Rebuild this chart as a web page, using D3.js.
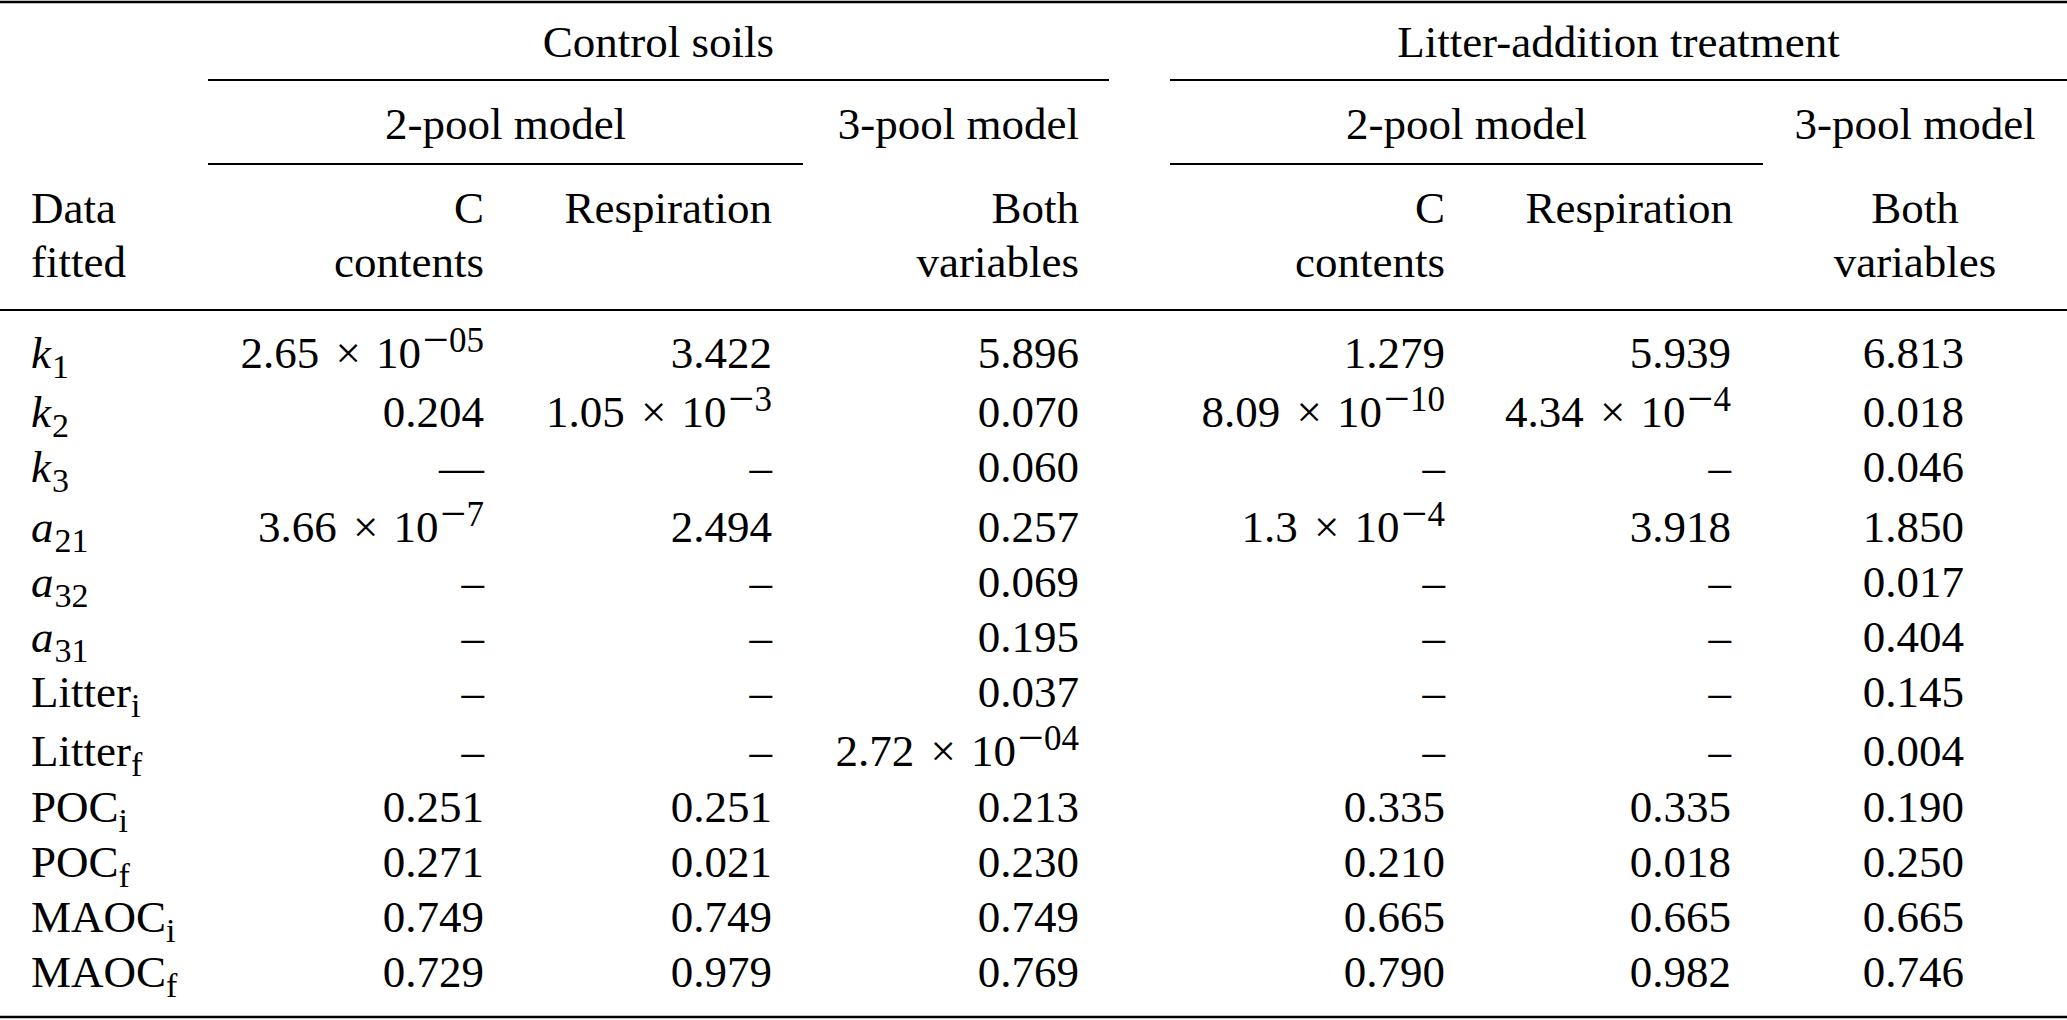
<!DOCTYPE html>
<html>
<head>
<meta charset="utf-8">
<script src="https://cdn.jsdelivr.net/npm/d3@7/dist/d3.min.js"></script>
<style>
  html, body { margin: 0; padding: 0; background: #ffffff; }
  svg { display: block; }
  text { font-family: "Liberation Serif", "Times New Roman", Times, serif; fill: #000; }
</style>
</head>
<body>
<div id="chart"></div>
<script>
// ---------------- data ----------------
const spanners = ["Control soils", "Litter-addition treatment"];
const models = ["2-pool model", "3-pool model"];
const colHeads = [["C", "contents"], ["Respiration"], ["Both", "variables"]];
const rowHeader = ["Data", "fitted"];

const rowSymbols = ["k", "k", "k", "a", "a", "a", "Litter", "Litter", "POC", "POC", "MAOC", "MAOC"];
const rowSubs    = ["1", "2", "3", "21", "32", "31", "i", "f", "i", "f", "i", "f"];
const rowItalic  = [true, true, true, true, true, true, false, false, false, false, false, false];

const controlC    = ["2.65 × 10^−05", "0.204", "—", "3.66 × 10^−7", "–", "–", "–", "–", "0.251", "0.271", "0.749", "0.729"];
const controlResp = ["3.422", "1.05 × 10^−3", "–", "2.494", "–", "–", "–", "–", "0.251", "0.021", "0.749", "0.979"];
const controlBoth = ["5.896", "0.070", "0.060", "0.257", "0.069", "0.195", "0.037", "2.72 × 10^−04", "0.213", "0.230", "0.749", "0.769"];
const litterC     = ["1.279", "8.09 × 10^−10", "–", "1.3 × 10^−4", "–", "–", "–", "–", "0.335", "0.210", "0.665", "0.790"];
const litterResp  = ["5.939", "4.34 × 10^−4", "–", "3.918", "–", "–", "–", "–", "0.335", "0.018", "0.665", "0.982"];
const litterBoth  = ["6.813", "0.018", "0.046", "1.850", "0.017", "0.404", "0.145", "0.004", "0.190", "0.250", "0.665", "0.746"];

const columns = [controlC, controlResp, controlBoth, litterC, litterResp, litterBoth];

// ---------------- layout ----------------
const W = 2067, H = 1020;
const FS = 45, SFS = 35, MFS = 46;
const groups = [
  { span: [208, 1109], cmid: [208, 803], model3: { x: 1079, anchor: "end" },
    cols: [{ x: 484, anchor: "end" }, { x: 772, anchor: "end" }, { x: 1079, anchor: "end" }],
    heads: [{ x: 484, anchor: "end" }, { x: 772, anchor: "end" }, { x: 1079, anchor: "end" }] },
  { span: [1170, W], cmid: [1170, 1763], model3: { x: 1915, anchor: "middle" },
    cols: [{ x: 1445, anchor: "end" }, { x: 1731, anchor: "end" }, { x: 1964, anchor: "end" }],
    heads: [{ x: 1445, anchor: "end" }, { x: 1733, anchor: "end" }, { x: 1915, anchor: "middle" }] }
];
const yTop = 2, ySpan = 80, yCmid = 164, yMid = 310, yBot = 1017;
const ySpanText = 57, yModelText = 139, yHead1 = 223, yHead2 = 277;
const labelX = 31;

// row baselines: uniform step, with a little extra room above rows holding superscripts
const firstBase = 368, step = 55.2, supExtra = 4;
const rowHasSup = rowSymbols.map((_, i) => columns.some(c => c[i].includes("^")));
const rowY = [];
rowSymbols.forEach((_, i) => {
  if (i === 0) rowY.push(firstBase);
  else rowY.push(rowY[i - 1] + step + (rowHasSup[i] ? supExtra : 0));
});
const yScale = d3.scaleOrdinal().domain(d3.range(rowSymbols.length)).range(rowY);

// ---------------- draw ----------------
const svg = d3.select("#chart").append("svg").attr("width", W).attr("height", H)
  .style("background", "#fff");

function rule(x1, x2, y, w) {
  svg.append("line").attr("x1", x1).attr("x2", x2).attr("y1", y).attr("y2", y)
    .attr("stroke", "#000").attr("stroke-width", w);
}
rule(0, W, yTop, 2.6);
rule(0, W, yMid, 2.2);
rule(0, W, yBot, 2.6);
groups.forEach(g => {
  rule(g.span[0], g.span[1], ySpan, 1.9);
  rule(g.cmid[0], g.cmid[1], yCmid, 1.9);
});

function txt(x, y, s, anchor) {
  return svg.append("text").attr("x", x).attr("y", y).attr("text-anchor", anchor || "start")
    .attr("font-size", FS).text(s);
}

// header
groups.forEach((g, gi) => {
  txt((g.span[0] + g.span[1]) / 2, ySpanText, spanners[gi], "middle");
  txt((g.cmid[0] + g.cmid[1]) / 2, yModelText, models[0], "middle");
  txt(g.model3.x, yModelText, models[1], g.model3.anchor);
  colHeads.forEach((lines, ci) => {
    lines.forEach((line, li) => {
      txt(g.heads[ci].x, li === 0 ? yHead1 : yHead2, line, g.heads[ci].anchor);
    });
  });
});
rowHeader.forEach((s, i) => txt(labelX, i === 0 ? yHead1 : yHead2, s, "start"));

// row labels
rowSymbols.forEach((sym, i) => {
  const t = svg.append("text").attr("x", labelX).attr("y", yScale(i)).attr("font-size", FS);
  t.append("tspan").attr("font-style", rowItalic[i] ? "italic" : "normal").text(sym);
  t.append("tspan").attr("font-size", SFS - 1).attr("dy", 10).attr("dx", rowItalic[i] ? 1 : 0).text(rowSubs[i]);
});

// cells
const flatCells = [];
columns.forEach((col, ci) => col.forEach((v, ri) => flatCells.push({ v, ci, ri })));
svg.append("g").selectAll("text").data(flatCells).join("text")
  .attr("x", d => groups[Math.floor(d.ci / 3)].cols[d.ci % 3].x)
  .attr("y", d => yScale(d.ri))
  .attr("text-anchor", d => groups[Math.floor(d.ci / 3)].cols[d.ci % 3].anchor)
  .attr("font-size", FS)
  .each(function (d) {
    const t = d3.select(this);
    if (d.v.includes("^")) {
      const [main, sup] = d.v.split("^");
      const [mant, pow] = main.split("×").map(s => s.trim());
      t.append("tspan").text(mant + " ");
      t.append("tspan").attr("dx", 5).text("×");
      t.append("tspan").attr("dx", 4).text(" " + pow);
      if (sup.startsWith("−")) {
        // wider math-style minus, kept at the same height as the exponent's axis
        t.append("tspan").attr("font-size", MFS).attr("dy", -13).attr("dx", 2).text("−");
        t.append("tspan").attr("font-size", SFS).attr("dy", -3).attr("dx", 0).text(sup.slice(1));
      } else {
        t.append("tspan").attr("font-size", SFS).attr("dy", -16).attr("dx", 1).text(sup);
      }
    } else {
      t.text(d.v);
    }
  });
</script>
</body>
</html>
